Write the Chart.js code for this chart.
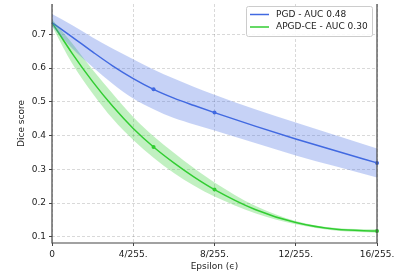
<!DOCTYPE html>
<html><head><meta charset="utf-8">
<script src="https://cdn.jsdelivr.net/npm/chart.js@4"></script>
<style>html,body{margin:0;padding:0;background:#fff}#w{width:419px;height:279px}</style>
</head><body><div id="w"><canvas id="c" width="419" height="279"></canvas></div>
<script>
const eps = [0,1,2,3,4,5,6,7,8,10,12,14,16];
const pgdMean  = [0.735,0.692,0.648,0.606,0.569,0.537,0.511,0.489,0.468,0.428,0.390,0.354,0.319];
const pgdUpper = [0.760,0.727,0.691,0.657,0.626,0.596,0.569,0.544,0.521,0.478,0.439,0.400,0.362];
const pgdLower = [0.724,0.658,0.603,0.553,0.510,0.478,0.452,0.433,0.415,0.378,0.341,0.308,0.276];
const apgdMean  = [0.735,0.643,0.560,0.486,0.421,0.366,0.319,0.277,0.240,0.181,0.142,0.122,0.117];
const apgdUpper = [0.745,0.673,0.595,0.523,0.455,0.398,0.349,0.303,0.261,0.192,0.147,0.126,0.122];
const apgdLower = [0.725,0.613,0.525,0.449,0.387,0.334,0.289,0.251,0.219,0.170,0.137,0.118,0.112];
const markerEps = [5,8,16];
const yTicks = [0.1,0.2,0.3,0.4,0.5,0.6,0.7];
const xTicks = [0,4,8,12,16];
const xTickLabels = ['0','4/255.','8/255.','12/255.','16/255.'];
const legendLabels = ['PGD - AUC 0.48','APGD-CE - AUC 0.30'];

const BLUE='#4169e1', GREEN='#32cd32';
const pts = a => eps.map((x,i)=>({x:x,y:a[i]}));
const radii = eps.map(x=>markerEps.includes(x)?2:0);
const FONT = {family:'"DejaVu Sans", sans-serif', size:9};

const frame = {
  id:'frame',
  afterDraw(ch){
    const {ctx, chartArea:a} = ch;
    ctx.save();
    ctx.strokeStyle='#444'; ctx.lineWidth=1.2;
    ctx.beginPath();
    ctx.moveTo(a.left, a.top); ctx.lineTo(a.left, a.bottom);
    ctx.lineTo(a.right, a.bottom); ctx.lineTo(a.right, a.top);
    ctx.stroke();
    // legend
    const x0=246, y0=6, w=126, h=30;
    ctx.fillStyle='rgba(255,255,255,0.85)';
    ctx.strokeStyle='#cccccc'; ctx.lineWidth=1;
    ctx.beginPath();
    if (ctx.roundRect) ctx.roundRect(x0+0.5,y0+0.5,w,h,2); else ctx.rect(x0+0.5,y0+0.5,w,h);
    ctx.fill(); ctx.stroke();
    const cols=[BLUE,GREEN];
    ctx.font='9px "DejaVu Sans", sans-serif';
    ctx.textBaseline='middle';
    legendLabels.forEach((t,i)=>{
      const yy = y0+8.5+i*12.5;
      ctx.strokeStyle=cols[i]; ctx.lineWidth=1.5;
      ctx.beginPath(); ctx.moveTo(x0+4,yy); ctx.lineTo(x0+23,yy); ctx.stroke();
      ctx.fillStyle='#222'; ctx.fillText(t, x0+30, yy);
    });
    ctx.restore();
  }
};

const common = {pointRadius:0, cubicInterpolationMode:'monotone'};
new Chart(document.getElementById('c'), {
  type:'line',
  data:{datasets:[
    Object.assign({data:pts(pgdUpper), borderWidth:0, fill:'+1', backgroundColor:'rgba(65,105,225,0.3)'}, common),
    Object.assign({data:pts(pgdLower), borderWidth:0, fill:false}, common),
    Object.assign({data:pts(apgdUpper), borderWidth:0, fill:'+1', backgroundColor:'rgba(50,205,50,0.3)'}, common),
    Object.assign({data:pts(apgdLower), borderWidth:0, fill:false}, common),
    Object.assign({data:pts(pgdMean), borderColor:BLUE, borderWidth:1.5, fill:false}, common, {pointRadius:radii, pointBackgroundColor:BLUE, pointBorderWidth:0}),
    Object.assign({data:pts(apgdMean), borderColor:GREEN, borderWidth:1.5, fill:false}, common, {pointRadius:radii, pointBackgroundColor:GREEN, pointBorderWidth:0})
  ]},
  options:{
    responsive:false, animation:false, clip:false,
    layout:{padding:{top:2,right:42,left:16,bottom:7}},
    plugins:{legend:{display:false}, tooltip:{enabled:false}},
    scales:{
      x:{type:'linear', min:0, max:16,
        afterBuildTicks(s){ s.ticks = xTicks.map(v=>({value:v})); },
        afterFit(s){ s.height = 29; },
        ticks:{font:FONT, color:'#222', maxRotation:0, padding:3,
          callback:(v)=>{const i=xTicks.indexOf(v); return i>=0?xTickLabels[i]:'';}},
        grid:{color:'rgba(0,0,0,0.15)', tickColor:'#444', tickLength:3, drawTicks:true},
        border:{display:false, dash:[3,2]},
        title:{display:true, text:'Epsilon (\u03f5)', font:FONT, color:'#222', padding:{top:0,bottom:0}}
      },
      y:{type:'linear', min:0.0815, max:0.79,
        afterBuildTicks(s){ s.ticks = yTicks.map(v=>({value:v})); },
        afterFit(s){ s.width = 36; s.paddingTop = 0; s.paddingBottom = 0; },
        ticks:{font:FONT, color:'#222', padding:3, callback:v=>v.toFixed(1)},
        grid:{color:'rgba(0,0,0,0.15)', tickColor:'#444', tickLength:3},
        border:{display:false, dash:[3,2]},
        title:{display:true, text:'Dice score', font:FONT, color:'#222', padding:{top:0,bottom:0}}
      }
    }
  },
  plugins:[frame]
});
</script>
</body></html>
